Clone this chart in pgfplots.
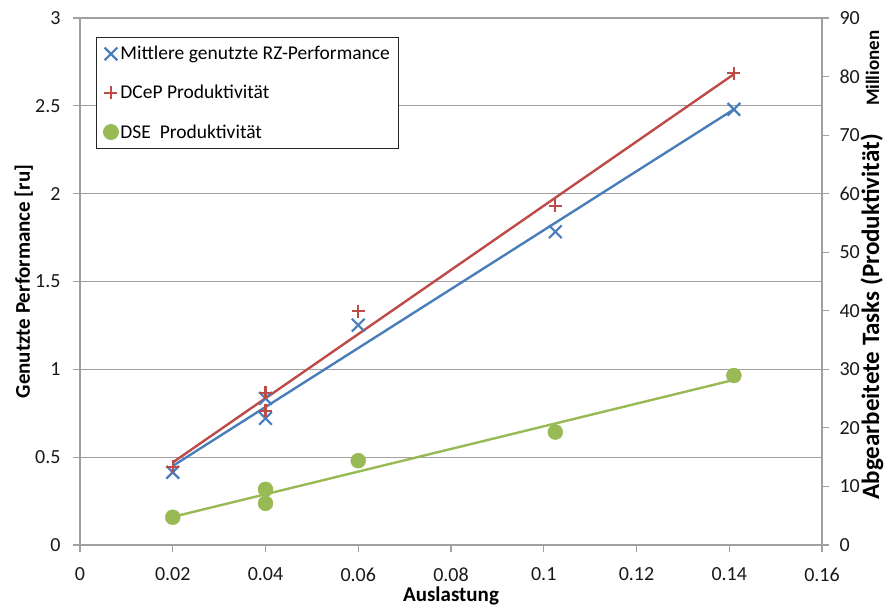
\documentclass[border=0pt]{standalone}
\usepackage{pgfplots}
\pgfplotsset{compat=1.18}
\usepackage{fontspec}
\setmainfont{Carlito}
\definecolor{xlblue}{HTML}{4A7EBB}
\definecolor{xlred}{HTML}{BE4B48}
\definecolor{xlgreen}{HTML}{98B954}
\definecolor{xlgray}{HTML}{A0A0A0}
\begin{document}
\begin{tikzpicture}[x=1pt,y=1pt]
\begin{axis}[
  name=main,
  scale only axis,
  width=742pt, height=527pt,
  xmin=0, xmax=0.16, ymin=0, ymax=3,
  xtick={0,0.02,...,0.16},
  ytick={0,0.5,...,3},
  xticklabels={0,0.02,0.04,0.06,0.08,0.1,0.12,0.14,0.16},
  yticklabels={0,0.5,1,1.5,2,2.5,3},
  axis x line*=bottom, axis y line*=left,
  axis line style={xlgray, line width=1.2pt, -},
  ymajorgrids, grid style={xlgray, line width=1.2pt},
  tick style={xlgray, line width=1.2pt},
  tick align=outside, major tick length=7pt,
  ticklabel style={font=\fontsize{20}{22}\selectfont, text=black!90},
  yticklabel style={xshift=-9pt},
  xticklabel style={yshift=-12pt},
  /pgf/number format/assume math mode=true,
  xlabel={Auslastung},
  xlabel style={font=\fontsize{21}{23}\selectfont\bfseries, at={(rel axis cs:0.5,0)}, anchor=base, yshift=-56pt},
  ylabel={Genutzte Performance [ru]},
  ylabel style={font=\fontsize{21}{23}\selectfont\bfseries, at={(rel axis cs:0,0.5)}, anchor=base, yshift=50pt},
  clip=false,
  legend style={at={(rel axis cs:0.0216,0.964)}, anchor=north west,
    draw=black!85, line width=0.9pt, font=\fontsize{19.5}{22}\selectfont,
    row sep=20pt, inner xsep=7pt, inner ysep=7pt, cells={anchor=west}},
  legend cell align=left,
  legend image code/.code={\draw[mark repeat=2,mark phase=2,#1] plot coordinates {(0pt,0pt) (7pt,0pt) (14pt,0pt)};},
]
\addplot[only marks, mark=x, mark size=9pt, color=xlblue, line width=2.2pt]
  coordinates {(0.02,0.414) (0.04,0.721) (0.04,0.835) (0.06,1.252) (0.1025,1.783) (0.141,2.48)};
\addlegendentry{Mittlere genutzte RZ-Performance}
\addplot[only marks, mark=+, mark size=6.5pt, color=xlred, line width=2.2pt]
  coordinates {(0.02,0.446) (0.04,0.765) (0.04,0.867) (0.06,1.332) (0.1025,1.931) (0.141,2.685)};
\addlegendentry{DCeP Produktivität}
\addplot[only marks, mark=*, mark size=7.5pt, color=xlgreen]
  coordinates {(0.02,0.158) (0.04,0.237) (0.04,0.317) (0.06,0.48) (0.1025,0.643) (0.141,0.965)};
\addlegendentry{DSE\ \ Produktivität}
\addplot[no marks, color=xlblue, line width=2.4pt, forget plot]
  coordinates {(0.02,0.45) (0.141,2.48)};
\addplot[no marks, color=xlred, line width=2.4pt, forget plot]
  coordinates {(0.02,0.47) (0.141,2.68)};
\addplot[no marks, color=xlgreen, line width=2.4pt, forget plot]
  coordinates {(0.02,0.16) (0.141,0.94)};
\end{axis}
\begin{axis}[
  scale only axis,
  width=742pt, height=527pt,
  xmin=0, xmax=0.16, ymin=0, ymax=90,
  ytick={0,10,...,90},
  axis x line=none,
  axis y line*=right,
  axis line style={xlgray, line width=1.2pt, -},
  tick style={xlgray, line width=1.2pt},
  tick align=outside, major tick length=7pt,
  ticklabel style={font=\fontsize{20}{22}\selectfont, text=black!90},
  yticklabel style={xshift=7pt},
  /pgf/number format/assume math mode=true,
  clip=false,
]
\node[xshift=57pt, rotate=90, anchor=base, font=\fontsize{25}{27}\selectfont\bfseries]
  at (rel axis cs:1,0.433) {Abgearbeitete Tasks (Produktivität)};
\node[xshift=57pt, yshift=-9pt, rotate=90, anchor=base east, font=\fontsize{19}{21}\selectfont\bfseries]
  at (rel axis cs:1,1) {Millionen};
\end{axis}
\pgfresetboundingbox
\path (main.south west) ++(-80pt,-63pt) rectangle ++(893pt,608pt);
\end{tikzpicture}
\end{document}
